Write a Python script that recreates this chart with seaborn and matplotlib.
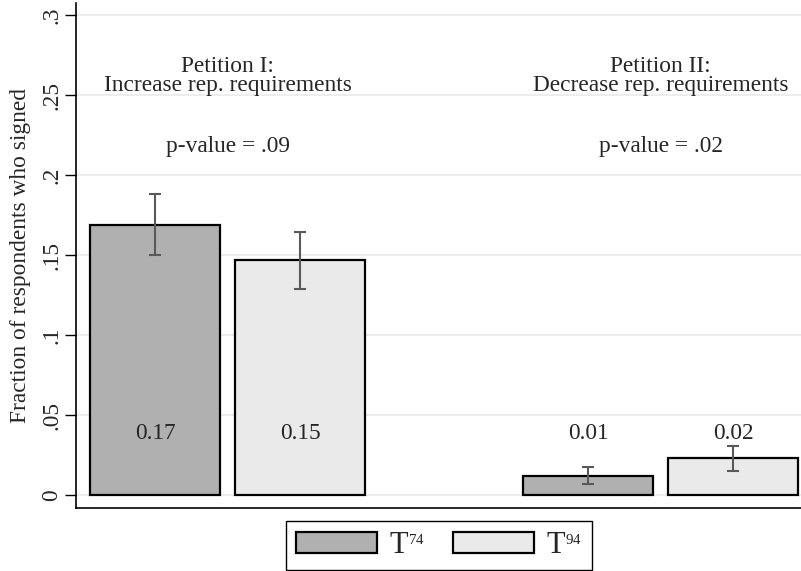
import matplotlib
matplotlib.use('Agg')
import numpy as np
import pandas as pd
import seaborn as sns
import matplotlib.pyplot as plt

sns.set_style('white')
plt.rcParams['font.family'] = ['Liberation Serif', 'DejaVu Serif']
plt.rcParams['mathtext.fontset'] = 'custom'
plt.rcParams['mathtext.rm'] = 'Liberation Serif'

# data
petitions = ['Petition I', 'Petition II']
petition_titles = ['Petition I:\nIncrease rep. requirements',
                   'Petition II:\nDecrease rep. requirements']
p_values = ['p-value = .09', 'p-value = .02']
treatments = ['T74', 'T94']
treatment_labels = [r'$\mathregular{T}^{{}_{\mathregular{74}}}$',
                    r'$\mathregular{T}^{{}_{\mathregular{94}}}$']
# order: (Petition I, T74), (Petition I, T94), (Petition II, T74), (Petition II, T94)
share_signed = [0.169, 0.147, 0.0123, 0.023]
ci_low = [0.150, 0.129, 0.0067, 0.0152]
ci_high = [0.188, 0.1646, 0.0177, 0.0308]
yticks = [0, 0.05, 0.1, 0.15, 0.2, 0.25, 0.3]
ytick_labels = ['0', '.05', '.1', '.15', '.2', '.25', '.3']

df = pd.DataFrame({
    'petition': np.repeat(petitions, 2),
    'treatment': treatments * 2,
    'share': share_signed,
    'lo': ci_low,
    'hi': ci_high,
})

bar_colors = ['#b0b0b0', '#eaeaea']
fs = 16.8

fig = plt.figure(figsize=(8.01, 5.71), dpi=100)
ax = fig.add_axes([76 / 801, (571 - 508) / 571, (801 - 76) / 801, (508 - 3) / 571])

sns.barplot(data=df, x='petition', y='share', hue='treatment', hue_order=treatments,
            palette=bar_colors, width=0.67, gap=0.1, edgecolor='black', linewidth=1.6,
            errorbar=None, ax=ax, legend=True, zorder=3)

# error bars and value labels on top of the bars
bar_containers = list(ax.containers)
for k, cont in enumerate(bar_containers):
    sub = df[df['treatment'] == treatments[k]]
    for patch, (_, row) in zip(cont.patches, sub.iterrows()):
        xc = patch.get_x() + patch.get_width() / 2
        ax.errorbar(xc, row['share'], yerr=[[row['share'] - row['lo']], [row['hi'] - row['share']]],
                    fmt='none', ecolor='#595959', elinewidth=1.5, capsize=4.5, capthick=1.5, zorder=4)
        ax.text(xc, 0.035, f"{row['share']:.2f}", ha='center', va='baseline', fontsize=fs, zorder=5)

for i, (title, pv) in enumerate(zip(petition_titles, p_values)):
    first, second = title.split('\n')
    ax.text(i, 0.2645, first, ha='center', va='baseline', fontsize=fs)
    ax.text(i, 0.2525, second, ha='center', va='baseline', fontsize=fs)
    ax.text(i, 0.2146, pv, ha='center', va='baseline', fontsize=fs)

ax.set_xlim(-0.35, 1.3245)
ax.set_ylim(-0.008, 0.3075)
ax.set_yticks(yticks)
ax.set_yticklabels(ytick_labels, rotation=90, va='center', fontsize=fs)
ax.set_xticks([])
ax.set_xlabel('')
ax.set_ylabel('Fraction of respondents who signed', fontsize=fs, labelpad=7.5)
ax.yaxis.grid(True, color='#eaeaea', linewidth=1.2)
ax.set_axisbelow(True)
ax.tick_params(axis='y', length=8, width=1, color='black', left=True, pad=2)
for s in ['top', 'right']:
    ax.spines[s].set_visible(False)
for s in ['left', 'bottom']:
    ax.spines[s].set_color('black')
    ax.spines[s].set_linewidth(1.2)

handles, _ = ax.get_legend_handles_labels()
ax.get_legend().remove()
leg = fig.legend(handles, treatment_labels, loc='lower center',
                 bbox_to_anchor=(439 / 801, 1 / 571), borderaxespad=0,
                 ncol=2, fontsize=22, frameon=True, fancybox=False, edgecolor='black',
                 framealpha=1, handlelength=2.65, handleheight=0.7, columnspacing=0.9,
                 handletextpad=0.4, borderpad=0.32)
leg.get_frame().set_linewidth(1.0)
for h in leg.legend_handles:
    h.set_edgecolor('black')
    h.set_linewidth(1.6)

fig.savefig('out.png', dpi=100)
